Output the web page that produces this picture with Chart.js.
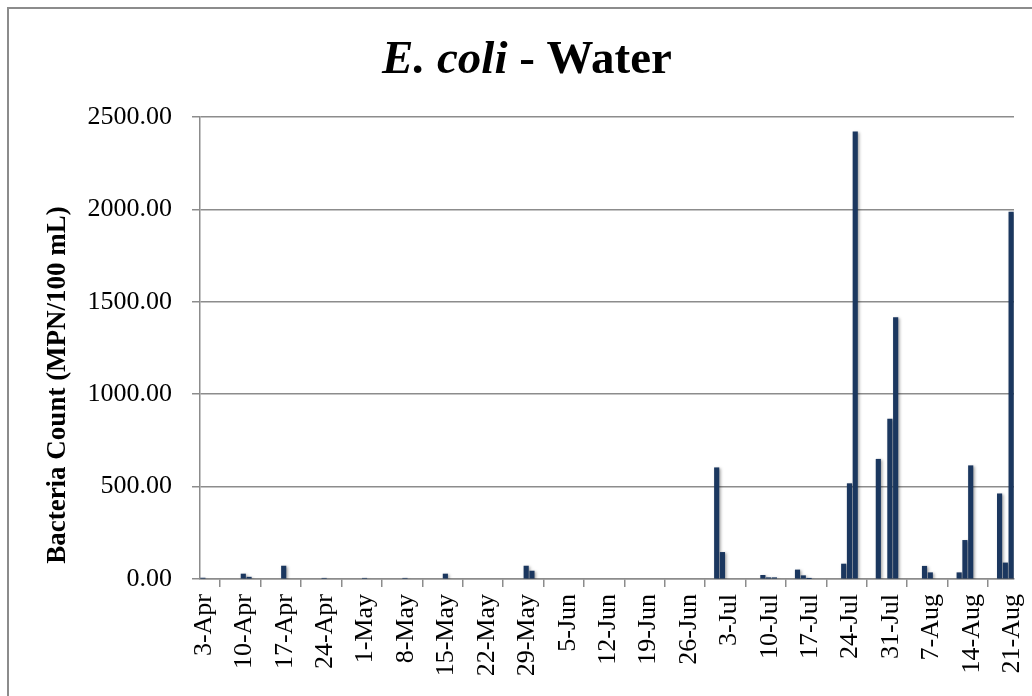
<!DOCTYPE html>
<html>
<head>
<meta charset="utf-8">
<script src="https://cdn.jsdelivr.net/npm/chart.js@4"></script>
<style>
  html, body { margin: 0; padding: 0; background: #fff; }
  #wrap { width: 1032px; height: 696px; position: relative; }
</style>
</head>
<body>
<div id="wrap"><canvas id="chart" width="1032" height="696"></canvas></div>
<script>
// E. coli sample dates and counts (MPN/100 mL)
const sampleDates = ['3-Apr', '10-Apr', '11-Apr', '17-Apr', '24-Apr', '1-May', '8-May', '15-May',
  '29-May', '30-May', '1-Jul', '2-Jul', '9-Jul', '10-Jul', '11-Jul', '15-Jul', '16-Jul', '17-Jul',
  '23-Jul', '24-Jul', '25-Jul', '29-Jul', '31-Jul', '1-Aug', '6-Aug', '7-Aug', '12-Aug', '13-Aug',
  '14-Aug', '19-Aug', '20-Aug', '21-Aug'];
const counts = [5, 27, 10, 70, 4, 4, 4, 27,
  70, 43, 602, 144, 20, 7, 7, 49, 18, 2,
  81, 516, 2419.6, 648, 866, 1414, 69, 34, 34, 209,
  613, 461, 87, 1986];
const tickLabels = ['3-Apr', '10-Apr', '17-Apr', '24-Apr', '1-May', '8-May', '15-May', '22-May',
  '29-May', '5-Jun', '12-Jun', '19-Jun', '26-Jun', '3-Jul', '10-Jul', '17-Jul', '24-Jul', '31-Jul',
  '7-Aug', '14-Aug', '21-Aug'];
const yTicks = [0, 500, 1000, 1500, 2000, 2500];

const MONTHS = { Apr: 3, May: 4, Jun: 5, Jul: 6, Aug: 7 };
function dayIndex(label) {
  const [d, m] = label.split('-');
  const t = Date.UTC(2012, MONTHS[m], Number(d));
  return Math.round((t - Date.UTC(2012, 3, 3)) / 86400000);
}

const tickDays = tickLabels.map(dayIndex);
const points = sampleDates.map((d, i) => ({ x: dayIndex(d) + 0.5, y: counts[i] }));

const SERIF = '"Liberation Serif", "DejaVu Serif", serif';
const GREY = '#8c8c8c';

// titles + frame drawn by hand: the title mixes italic and upright text
const decor = {
  id: 'decor',
  beforeDraw(chart) {
    const ctx = chart.ctx;
    ctx.save();
    ctx.fillStyle = '#fff';
    ctx.fillRect(0, 0, chart.width, chart.height);
    ctx.strokeStyle = GREY;
    ctx.lineWidth = 2;
    ctx.strokeRect(8, 8, 2000, 2000);
    ctx.restore();
  },
  afterDraw(chart) {
    const ctx = chart.ctx;
    ctx.save();
    ctx.fillStyle = '#000';
    ctx.textBaseline = 'alphabetic';
    const f1 = 'italic bold 47px ' + SERIF;
    const f2 = 'bold 47px ' + SERIF;
    const a = 'E. coli', b = ' - Water';
    ctx.font = f1;
    const w1 = ctx.measureText(a).width;
    ctx.font = f2;
    const w2 = ctx.measureText(b).width;
    let x = 527 - (w1 + w2) / 2;
    ctx.font = f1;
    ctx.fillText(a, x, 73);
    ctx.font = f2;
    ctx.fillText(b, x + w1, 73);

    ctx.translate(58, 385);
    ctx.rotate(-Math.PI / 2);
    ctx.font = 'bold 27px ' + SERIF;
    ctx.textAlign = 'center';
    ctx.textBaseline = 'middle';
    ctx.fillText('Bacteria Count (MPN/100 mL)', 0, 0);
    ctx.restore();
  },
  beforeDatasetsDraw(chart) {
    const ctx = chart.ctx;
    ctx.save();
    ctx.shadowColor = 'rgba(0,0,0,0.35)';
    ctx.shadowBlur = 3;
    ctx.shadowOffsetX = 1.5;
    ctx.shadowOffsetY = 1;
  },
  afterDatasetsDraw(chart) {
    chart.ctx.restore();
  }
};

new Chart(document.getElementById('chart'), {
  type: 'bar',
  data: {
    datasets: [{
      data: points,
      backgroundColor: '#1b375f',
      borderWidth: 0,
      barThickness: 4.5,
    }],
  },
  options: {
    responsive: false,
    animation: false,
    events: [],
    layout: { padding: { top: 117, right: 18, bottom: 0, left: 0 } },
    plugins: { legend: { display: false }, tooltip: { enabled: false }, title: { display: false } },
    scales: {
      x: {
        type: 'linear',
        min: 0,
        max: 141,
        offset: false,
        afterBuildTicks(scale) { scale.ticks = tickDays.map((v) => ({ value: v })); },
        afterFit(scale) {
          scale.height = 117;
          scale.paddingLeft = 0;
          scale.paddingRight = 0;
        },
        ticks: {
          autoSkip: false,
          minRotation: 90,
          maxRotation: 90,
          padding: 7,
          labelOffset: 4,
          color: '#000',
          font: { family: SERIF, size: 26 },
          callback: (v) => tickLabels[tickDays.indexOf(v)],
        },
        grid: { drawOnChartArea: false, drawTicks: true, tickLength: 8, color: GREY, lineWidth: 1.5 },
        border: { color: GREY, width: 1.5 },
      },
      y: {
        min: 0,
        max: 2500,
        afterBuildTicks(scale) { scale.ticks = yTicks.map((v) => ({ value: v })); },
        afterFit(scale) {
          scale.width = 200;
          scale.paddingTop = 0;
          scale.paddingBottom = 0;
        },
        ticks: {
          padding: 20,
          color: '#000',
          font: { family: SERIF, size: 26 },
          callback: (v) => v.toFixed(2),
        },
        grid: { color: GREY, lineWidth: 1.5, tickLength: 8 },
        border: { color: GREY, width: 1.5 },
      },
    },
  },
  plugins: [decor],
});
</script>
</body>
</html>
